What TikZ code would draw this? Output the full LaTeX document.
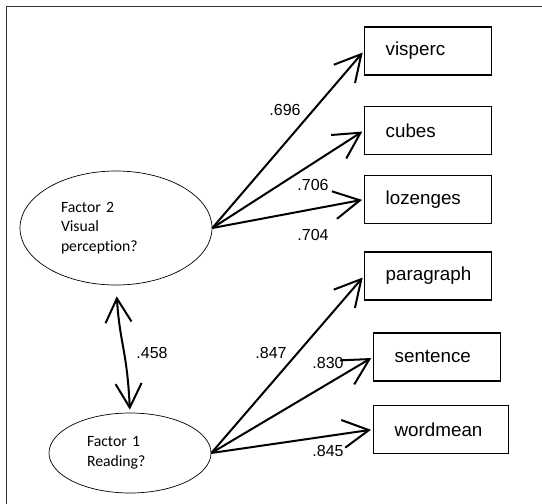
\documentclass[tikz,border=0pt]{standalone}
\usepackage{fontspec}
\setmainfont{Liberation Sans}
\newfontfamily\carlito[Ligatures=NoCommon]{Carlito}
\usetikzlibrary{arrows.meta}
\usetikzlibrary{shapes.geometric}

\tikzset{%
    varbox/.style={draw, line width=1.3pt, rectangle, minimum height=48pt,
        inner xsep=21pt, text width=85pt, align=left,
        font={\fontsize{18.8}{22}\selectfont}},
    factor/.style={draw, line width=0.7pt, ellipse, inner sep=0pt, align=left,
        font={\carlito\fontsize{15.7}{19.5}\selectfont}},
    loading/.style={line width=2pt, -{Straight Barb[length=26pt,width=28pt,line width=2pt]},
        shorten >=2pt},
    weight/.style={font={\fontsize{16}{18}\selectfont}, inner sep=0pt},
}

\begin{document}
\begin{tikzpicture}[x=1pt,y=-1pt]
\useasboundingbox (0,0) rectangle (542,504);
\draw [line width=1pt, black!80] (6,6) rectangle (600,560);
% latent factors
\node[factor, minimum width=192pt, minimum height=114pt, text width=110pt] (f2) at (116,228) {Factor 2\\Visual\\perception?};
\node[factor, minimum width=162pt, minimum height=80pt, text width=86pt] (f1) at (130,453) {Factor 1\\Reading?};
% observed variables
\node[varbox, anchor=west] (visperc) at (364,51) {visperc};
\node[varbox, anchor=west] (cubes) at (364,130.5) {cubes};
\node[varbox, anchor=west] (lozenges) at (364,199.5) {lozenges};
\node[varbox, anchor=west] (paragraph) at (364,276) {paragraph};
\node[varbox, anchor=west] (sentence) at (373,357) {sentence};
\node[varbox, anchor=west, text width=93pt] (wordmean) at (373,429.5) {wordmean};
% loadings
\path (f2.east) edge[loading] (visperc.west);
\path (f2.east) edge[loading] (cubes.west);
\path (f2.east) edge[loading] (lozenges.west);
\path (f1.east) edge[loading] (paragraph.west);
\path (f1.east) edge[loading] (sentence.west);
\path (f1.east) edge[loading] (wordmean.west);
\node[weight] (w696) at (285,110) {.696};
\node[weight] (w706) at (313,185) {.706};
\node[weight] (w704) at (313,235) {.704};
\node[weight] (w847) at (271,353) {.847};
\node[weight] (w830) at (328,363) {.830};
\node[weight] (w845) at (328,451) {.845};
% correlation
\draw[line width=2pt, {Straight Barb[length=24pt,width=26pt,line width=2pt]}-{Straight Barb[length=24pt,width=26pt,line width=2pt]},
    shorten <=11pt, shorten >=3pt]
    (f2.south) .. controls (120,345) and (127,350) .. (f1.north);
\node[weight] (w458) at (152,353) {.458};
\end{tikzpicture}
\end{document}
